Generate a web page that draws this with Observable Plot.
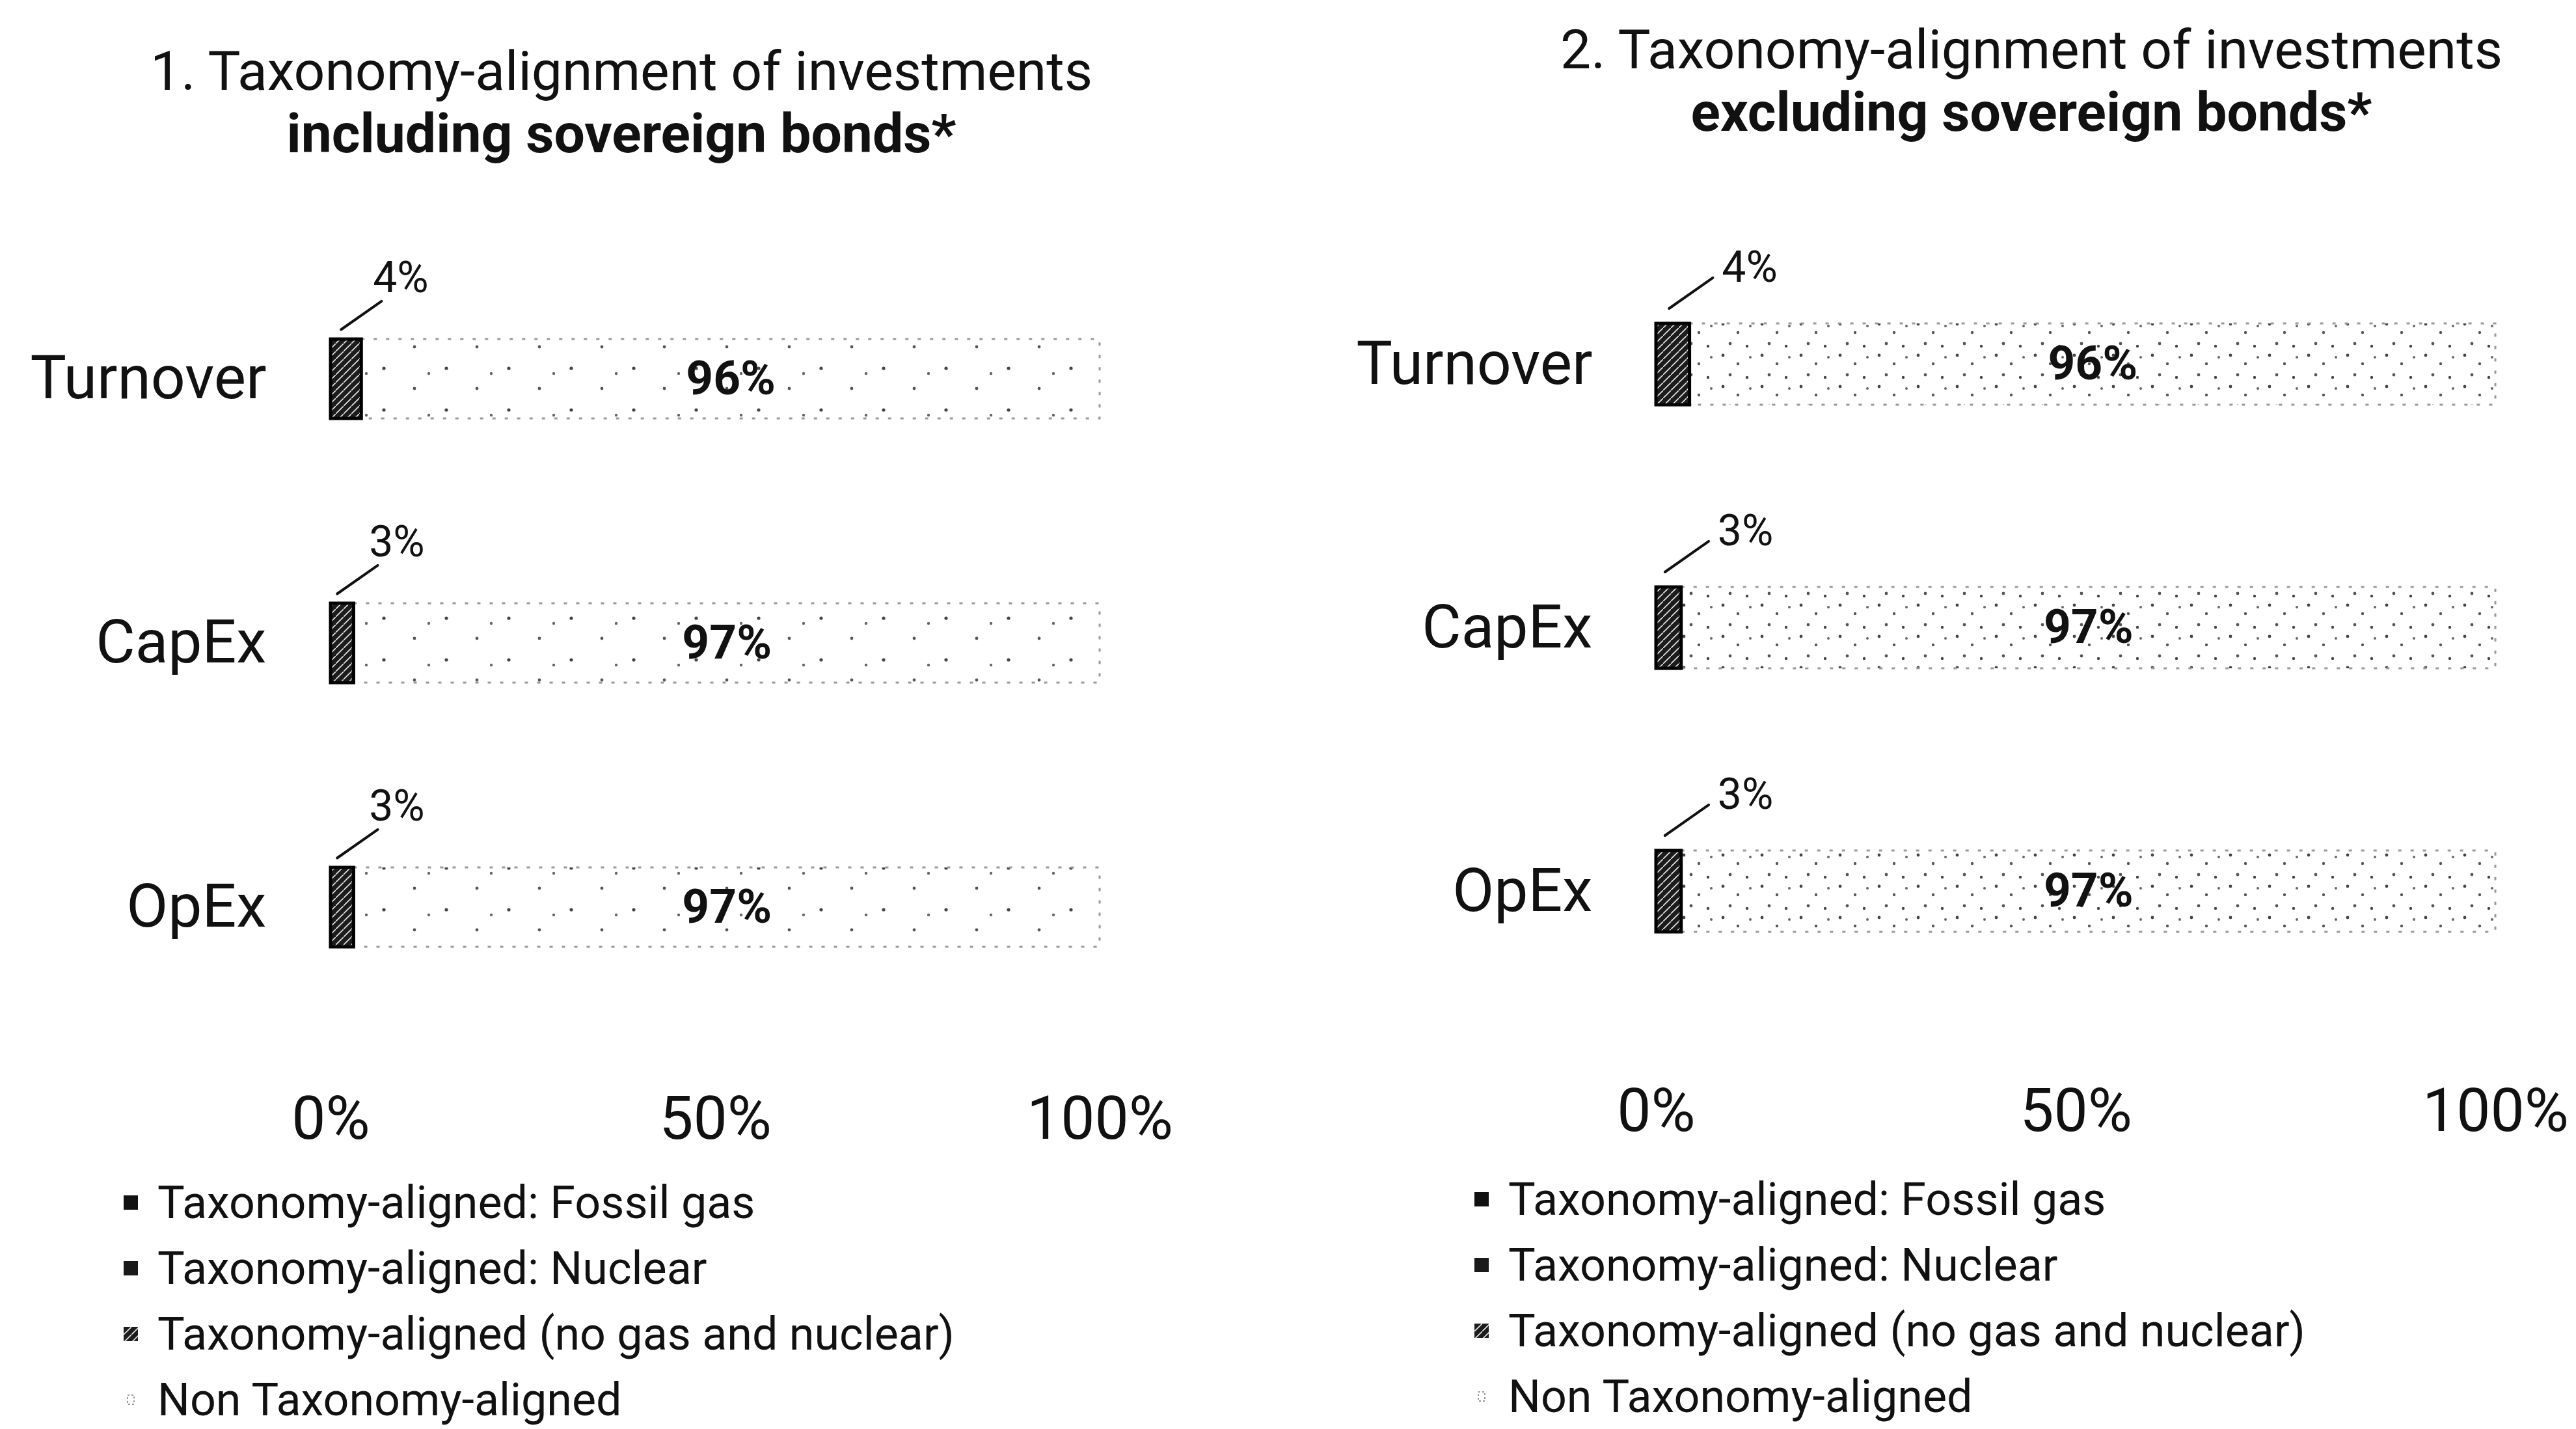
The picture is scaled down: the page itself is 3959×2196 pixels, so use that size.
<!DOCTYPE html>
<html>
<head>
<meta charset="utf-8">
<script src="https://cdn.jsdelivr.net/npm/d3@7"></script>
<script src="https://cdn.jsdelivr.net/npm/@observablehq/plot@0.6"></script>
<style>
  html, body { margin: 0; padding: 0; background: #fff; }
  body { width: 3959px; height: 2196px; position: relative; overflow: hidden;
         font-family: Roboto, "Open Sans", sans-serif; color: #111; }
  .title { position: absolute; font-size: 84px; line-height: 96px; text-align: center; white-space: nowrap; }
  .title .l2 { font-weight: 700; }
  .chart { position: absolute; top: 300px; }
  .legend { position: absolute; font-size: 70px; white-space: nowrap; }
  .legend .item { display: flex; align-items: center; height: 101px; }
  .legend .sw { width: 22px; height: 22px; margin-right: 30px; flex: none; }
</style>
</head>
<body>
<svg width="0" height="0" style="position:absolute">
  <defs>
    <pattern id="hatch" patternUnits="userSpaceOnUse" width="12" height="12">
      <rect width="12" height="12" fill="#1c1c1c"></rect>
      <path d="M0,12 L12,0" stroke="#e8e8e8" stroke-width="1.6"></path>
    </pattern>
    <pattern id="speckL" patternUnits="userSpaceOnUse" width="96" height="64">
      <rect width="96" height="64" fill="#ffffff"></rect>
      <circle cx="14" cy="10" r="2.6" fill="#444"></circle>
      <circle cx="61" cy="41" r="2.4" fill="#555"></circle>
      <circle cx="83" cy="18" r="2.2" fill="#666"></circle>
    </pattern>
    <pattern id="speckR" patternUnits="userSpaceOnUse" width="60" height="48">
      <rect width="60" height="48" fill="#ffffff"></rect>
      <circle cx="8" cy="6" r="2.4" fill="#444"></circle>
      <circle cx="31" cy="19" r="2.2" fill="#555"></circle>
      <circle cx="50" cy="9" r="2" fill="#666"></circle>
      <circle cx="19" cy="36" r="2.4" fill="#555"></circle>
      <circle cx="45" cy="40" r="2.2" fill="#444"></circle>
    </pattern>
  </defs>
</svg>

<div class="title" id="t1" style="left:0px; width:1910px; top:62px;"></div>
<div class="title" id="t2" style="left:2222px; width:1800px; top:29px;"></div>
<div class="chart" id="c1" style="left:0px; width:1900px;"></div>
<div class="chart" id="c2" style="left:1980px; width:1979px;"></div>
<div class="legend" id="l1" style="left:190px; top:1797px;"></div>
<div class="legend" id="l2" style="left:2266px; top:1792px;"></div>

<script>
// ---------------- DATA ----------------
const categories = ["Turnover", "CapEx", "OpEx"];
const seriesNames = [
  "Taxonomy-aligned: Fossil gas",
  "Taxonomy-aligned: Nuclear",
  "Taxonomy-aligned (no gas and nuclear)",
  "Non Taxonomy-aligned"
];
// 1. including sovereign bonds
const inclFossilGas   = [0, 0, 0];
const inclNuclear     = [0, 0, 0];
const inclAligned     = [4, 3, 3];
const inclNonAligned  = [96, 97, 97];
// 2. excluding sovereign bonds
const exclFossilGas   = [0, 0, 0];
const exclNuclear     = [0, 0, 0];
const exclAligned     = [4, 3, 3];
const exclNonAligned  = [96, 97, 97];

const xTicks = [0, 50, 100];
const titleLine1 = ["1. Taxonomy-alignment of investments", "2. Taxonomy-alignment of investments"];
const titleLine2 = ["including sovereign bonds*", "excluding sovereign bonds*"];

// ---------------- STYLE ----------------
const speckFill = ["url(#speckL)", "url(#speckR)"];
const seriesFill = ["#111", "#1a1a1a", "url(#hatch)", null];

function buildRows(fossil, nuclear, aligned, non) {
  const rows = [];
  categories.forEach((c, i) => {
    let acc = 0;
    [fossil[i], nuclear[i], aligned[i], non[i]].forEach((v, s) => {
      rows.push({category: c, series: seriesNames[s], value: v, start: acc, end: acc + v});
      acc += v;
    });
  });
  return rows;
}

const panels = [
  {rows: buildRows(inclFossilGas, inclNuclear, inclAligned, inclNonAligned),
   el: "c1", width: 1900, mL: 508, mR: 210, yRange: [220, 1155], pad: 0.70, xPad: 33, yPad: 99,
   lineDx: -8, lineDy: -76, lineLen: 76, labDx: 41, labDy: -134, speck: speckFill[0]},
  {rows: buildRows(exclFossilGas, exclNuclear, exclAligned, exclNonAligned),
   el: "c2", width: 1979, mL: 565, mR: 124, yRange: [196, 1132], pad: 0.692, xPad: 21, yPad: 98,
   lineDx: -6, lineDy: -86, lineLen: 82, labDx: 75, labDy: -127, speck: speckFill[1]}
];

const lineShape = {
  draw(context, l) { context.moveTo(0, 0); context.lineTo(0, -l); }
};

panels.forEach((p, k) => {
  const aligned = p.rows.filter(d => d.series === seriesNames[2] && d.value > 0);
  const non = p.rows.filter(d => d.series === seriesNames[3] && d.value > 0);
  const mid = d => (d.start + d.end) / 2;
  const chart = Plot.plot({
    width: p.width,
    height: 1500,
    marginLeft: p.mL,
    marginRight: p.mR,
    marginTop: 0,
    marginBottom: 150,
    style: {fontFamily: "Roboto, 'Open Sans', sans-serif", fontSize: "93px", color: "#111",
            background: "transparent", overflow: "visible"},
    x: {domain: [0, 100], ticks: xTicks, tickFormat: d => d + "%", tickSize: 0,
        tickPadding: p.xPad, label: null},
    y: {domain: categories, range: p.yRange, paddingInner: p.pad, paddingOuter: 0,
        tickSize: 0, tickPadding: p.yPad, label: null},
    marks: [
      Plot.barX(non, {x1: "start", x2: "end", y: "category", fill: p.speck,
                      stroke: "#9a9a9a", strokeWidth: 3, strokeDasharray: "5 14"}),
      Plot.barX(aligned, {x1: "start", x2: "end", y: "category", fill: seriesFill[2],
                          stroke: "#000", strokeWidth: 5}),
      Plot.vector(aligned, {x: mid, y: "category", length: p.lineLen, rotate: 55, anchor: "start",
                            shape: lineShape, dx: p.lineDx, dy: p.lineDy, stroke: "#111", strokeWidth: 4}),
      Plot.text(aligned, {x: mid, y: "category", text: d => d.value + "%", textAnchor: "start",
                          lineAnchor: "bottom", dx: p.labDx, dy: p.labDy, fontSize: 66, fill: "#111"}),
      Plot.text(non, {x: mid, y: "category", text: d => d.value + "%", fontSize: 73,
                      fontWeight: 700, fill: "#111"})
    ]
  });
  document.getElementById(p.el).appendChild(chart);

  // titles
  const t = document.getElementById("t" + (k + 1));
  const a = document.createElement("div"); a.textContent = titleLine1[k];
  const b = document.createElement("div"); b.className = "l2"; b.textContent = titleLine2[k];
  t.appendChild(a); t.appendChild(b);

  // legend
  const lg = document.getElementById("l" + (k + 1));
  seriesNames.forEach((s, i) => {
    const item = document.createElement("div"); item.className = "item";
    const sw = document.createElementNS("http://www.w3.org/2000/svg", "svg");
    sw.setAttribute("class", "sw"); sw.setAttribute("width", 22); sw.setAttribute("height", 22);
    const r = document.createElementNS("http://www.w3.org/2000/svg", "rect");
    if (i < 3) {
      r.setAttribute("x", 0); r.setAttribute("y", 0); r.setAttribute("width", 22); r.setAttribute("height", 22);
      r.setAttribute("fill", seriesFill[i]);
    } else {
      r.setAttribute("x", 6); r.setAttribute("y", 4); r.setAttribute("width", 10); r.setAttribute("height", 14);
      r.setAttribute("fill", "#fff"); r.setAttribute("stroke", "#999"); r.setAttribute("stroke-width", 2);
      r.setAttribute("stroke-dasharray", "3 3");
    }
    sw.appendChild(r);
    const tx = document.createElement("span"); tx.textContent = s;
    item.appendChild(sw); item.appendChild(tx);
    lg.appendChild(item);
  });
});
</script>
</body>
</html>
